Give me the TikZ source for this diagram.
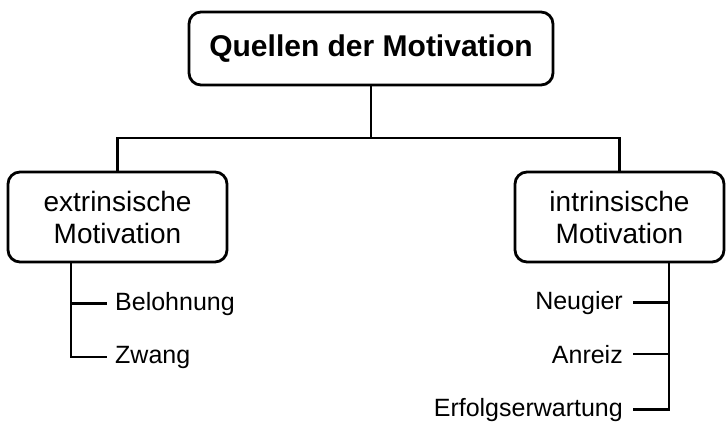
\documentclass[tikz,border=0pt]{standalone}
\usepackage{fontspec}
\setmainfont{Liberation Sans}
\begin{document}
\begin{tikzpicture}[x=1pt,y=-1pt,
  box/.style={draw,line width=2.8pt,rounded corners=12pt,inner sep=0pt,align=center},
  conn/.style={line width=2.8pt},
  leafL/.style={anchor=base west,inner ysep=0pt,inner xsep=8pt,font=\fontsize{25}{30}\selectfont},
  leafR/.style={anchor=base east,inner ysep=0pt,inner xsep=10pt,font=\fontsize{25}{30}\selectfont}]
\useasboundingbox (0,0) rectangle (726,421);
% main box
\node[box,minimum width=364pt,minimum height=73pt,font=\bfseries\fontsize{30}{36}\selectfont]
  (top) at (371,48.5) {Quellen der Motivation};
% second level
\node[box,minimum width=219pt,minimum height=90pt,font=\fontsize{28}{32}\selectfont]
  (ext) at (117.5,217) {extrinsische\\Motivation};
\node[box,minimum width=209pt,minimum height=90pt,font=\fontsize{28}{32}\selectfont]
  (int) at (619.5,217) {intrinsische\\Motivation};
\coordinate (j) at (371,138);
\draw[conn] (top.south) -- (j);
\draw[conn] (ext.north) |- (j) -| (int.north);
% leaves of the extrinsic branch
\node[leafL] (bel) at (107,310) {Belohnung};
\node[leafL] (zw) at (107,363) {Zwang};
\coordinate (eL) at (71,262);
\draw[conn] (eL) |- (zw.west);
\draw[conn] (eL |- bel.west) -- (bel.west);
% leaves of the intrinsic branch
\node[leafR] (neu) at (633,309) {Neugier};
\node[leafR] (anr) at (633,363) {Anreiz};
\node[leafR] (erf) at (633,416) {Erfolgserwartung};
\coordinate (iR) at (669,262);
\draw[conn] (iR) |- (erf.east);
\draw[conn] (iR |- neu.east) -- (neu.east);
\draw[conn] (iR |- anr.east) -- (anr.east);
\end{tikzpicture}
\end{document}
